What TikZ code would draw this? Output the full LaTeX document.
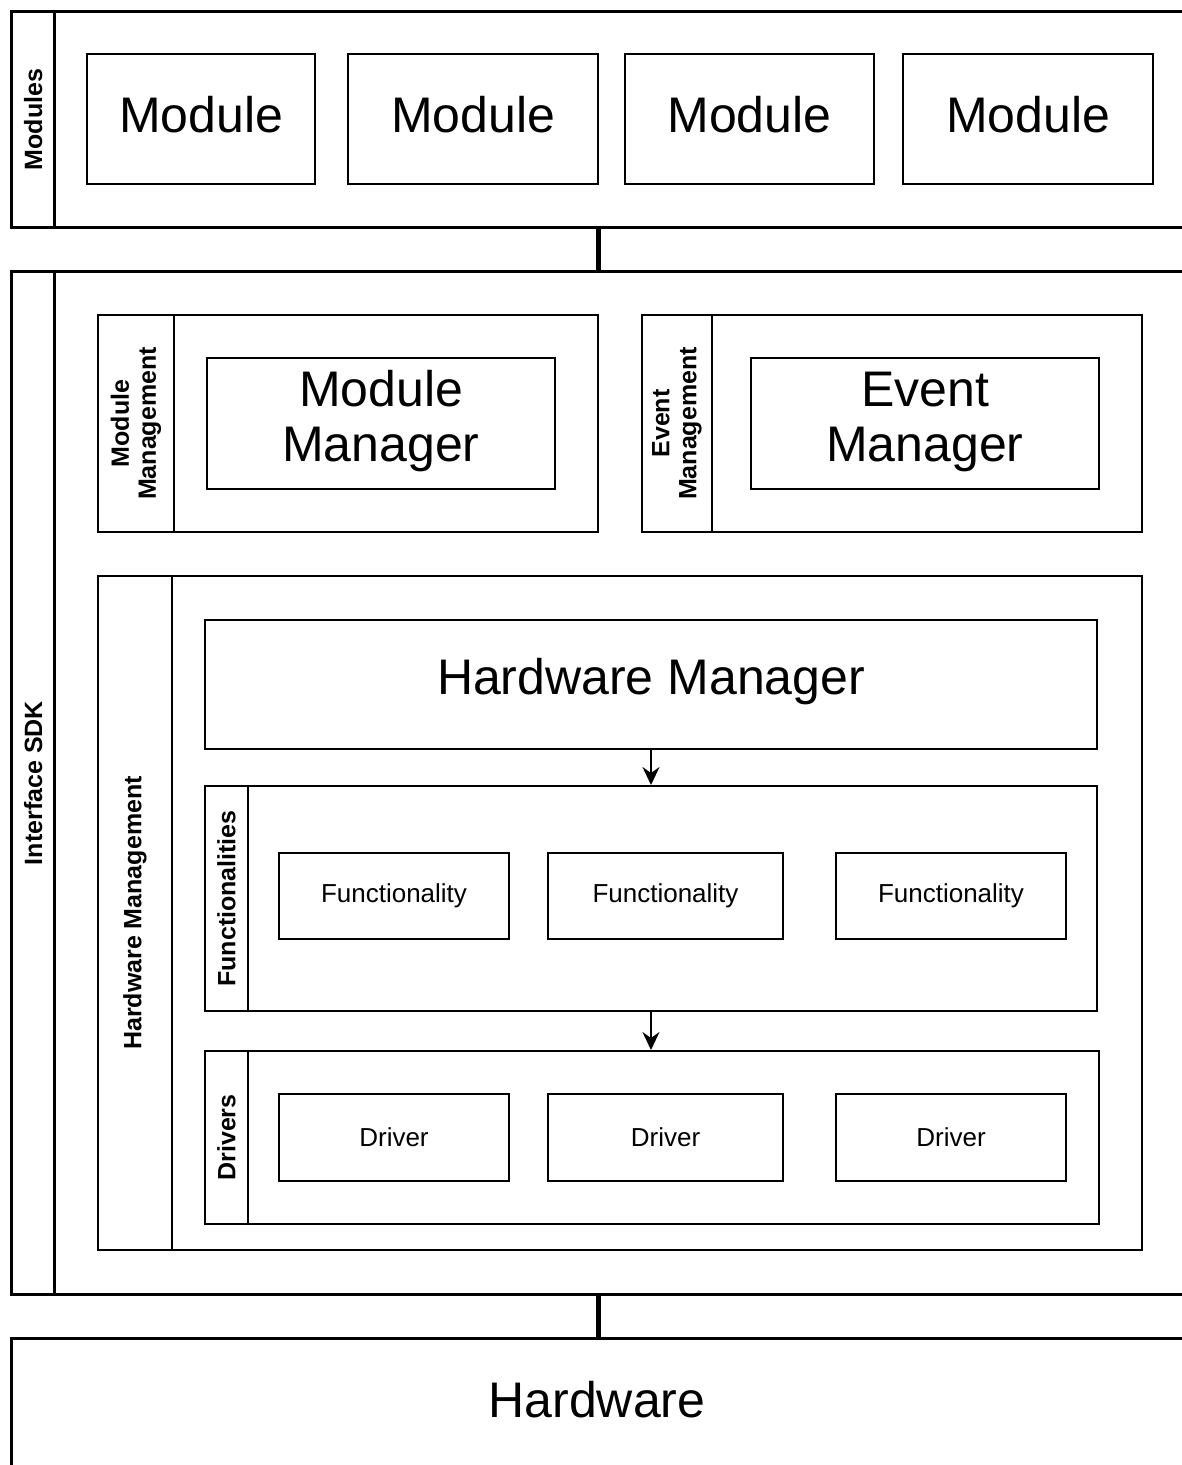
\documentclass[tikz,border=0pt]{standalone}
\usepackage{fontspec}
\setmainfont{Liberation Sans}
\usetikzlibrary{arrows.meta}
\newcommand\boxat[7]{\node[#2, minimum width={#5-#3}, minimum height={#6-#4}, anchor=north west] (#1) at (#3,#4) {#7};}
\tikzset{
  outer/.style={draw, line width=3.2pt, inner sep=0pt},
  inner/.style={draw, line width=2pt, inner sep=0pt},
  big/.style={font=\fontsize{50}{55}\selectfont, align=center},
  small/.style={font=\fontsize{26}{30}\selectfont},
  lab/.style={font=\bfseries\fontsize{25}{27}\selectfont, rotate=90, align=center, inner sep=0pt},
  link/.style={line width=5pt},
  arr/.style={line width=2pt, -{Stealth[length=18pt,width=17pt,inset=6pt]}}
}
\begin{document}
\begin{tikzpicture}[x=1pt,y=-1pt]
\useasboundingbox (0,0) rectangle (1182,1465);
\fill[white] (0,0) rectangle (1182,1465);
\clip (0,0) rectangle (1182,1465);
% Modules layer
\boxat{modules}{outer}{10}{10}{1260}{226}{}
\boxat{mhead}{outer}{10}{10}{53}{226}{}
\node[lab] (mlab) at (mhead.center) {Modules};
\boxat{m1}{inner}{86}{53}{314}{183}{}
\node[big, yshift=4pt] (m1t) at (m1.center) {Module};
\boxat{m2}{inner}{347}{53}{597}{183}{}
\node[big, yshift=4pt] (m2t) at (m2.center) {Module};
\boxat{m3}{inner}{624}{53}{873}{183}{}
\node[big, yshift=4pt] (m3t) at (m3.center) {Module};
\boxat{m4}{inner}{902}{53}{1152}{183}{}
\node[big, yshift=4pt] (m4t) at (m4.center) {Module};
% Interface SDK
\boxat{sdk}{outer}{10}{270}{1260}{1293}{}
\boxat{shead}{outer}{10}{270}{53}{1293}{}
\node[lab] (slab) at (shead.center) {Interface SDK};
% Module management
\boxat{mm}{inner}{97}{314}{597}{531}{}
\boxat{mmhead}{inner}{97}{314}{173}{531}{}
\node[lab] (mmlab) at (mmhead.center) {Module\\Management};
\boxat{mmgr}{inner}{206}{357}{554}{488}{}
\node[big, yshift=2pt] (mmgrt) at (mmgr.center) {Module\\Manager};
% Event management
\boxat{em}{inner}{641}{314}{1141}{531}{}
\boxat{emhead}{inner}{641}{314}{711}{531}{}
\node[lab] (emlab) at (emhead.center) {Event\\Management};
\boxat{emgr}{inner}{750}{357}{1098}{488}{}
\node[big, yshift=2pt] (emgrt) at (emgr.center) {Event\\Manager};
% Hardware management
\boxat{hm}{inner}{97}{575}{1141}{1249}{}
\boxat{hmhead}{inner}{97}{575}{171}{1249}{}
\node[lab] (hmlab) at (hmhead.center) {Hardware Management};
\boxat{hwm}{inner}{204}{619}{1096}{748}{}
\node[big, yshift=3pt] (hwmt) at (hwm.center) {Hardware Manager};
% Functionalities
\boxat{func}{inner}{204}{785}{1096}{1010}{}
\boxat{fhead}{inner}{204}{785}{247}{1010}{}
\node[lab] (flab) at (fhead.center) {Functionalities};
\boxat{f1}{inner}{278}{852}{508}{938}{}
\node[small] (f1t) at (f1.center) {Functionality};
\boxat{f2}{inner}{547}{852}{782}{938}{}
\node[small] (f2t) at (f2.center) {Functionality};
\boxat{f3}{inner}{835}{852}{1065}{938}{}
\node[small] (f3t) at (f3.center) {Functionality};
% Drivers
\boxat{drv}{inner}{204}{1050}{1098}{1223}{}
\boxat{dhead}{inner}{204}{1050}{247}{1223}{}
\node[lab] (dlab) at (dhead.center) {Drivers};
\boxat{d1}{inner}{278}{1093}{508}{1180}{}
\node[small] (d1t) at (d1.center) {Driver};
\boxat{d2}{inner}{547}{1093}{782}{1180}{}
\node[small] (d2t) at (d2.center) {Driver};
\boxat{d3}{inner}{835}{1093}{1065}{1180}{}
\node[small] (d3t) at (d3.center) {Driver};
% Hardware
\boxat{hw}{outer}{10}{1337}{1260}{1500}{}
\node[big] (hwt) at (597,1400) {Hardware};
% connectors
\coordinate (cx) at (598,0);
\draw[link] (modules.south -| cx) -- (sdk.north -| cx);
\draw[link] (sdk.south -| cx) -- (hw.north -| cx);
\draw[arr] (hwm.south) -- (hwm.south |- func.north);
\draw[arr] (hwm.south |- func.south) -- (hwm.south |- drv.north);
\end{tikzpicture}
\end{document}
